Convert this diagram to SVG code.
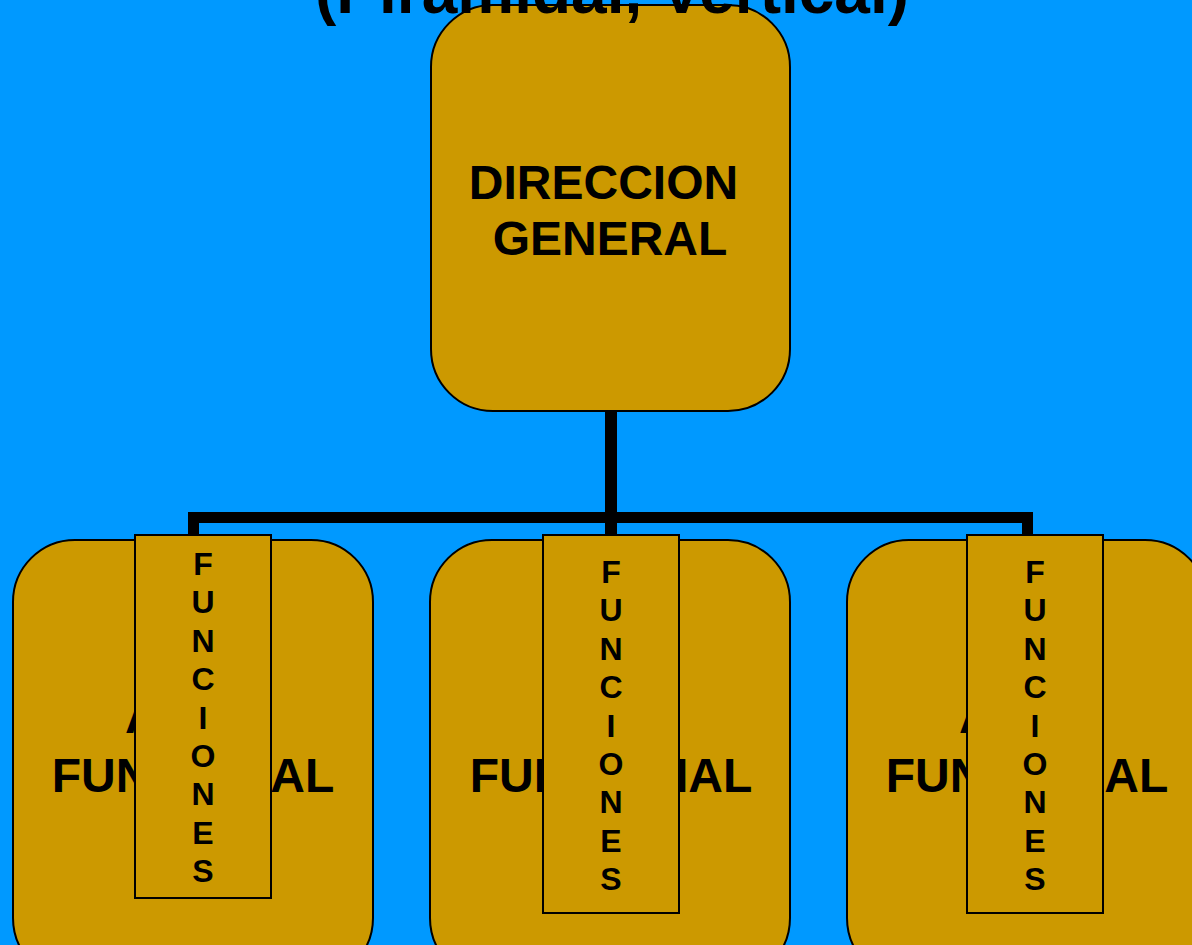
<svg xmlns="http://www.w3.org/2000/svg" width="1192" height="945" viewBox="0 0 1192 945">
  <style>
    .box { fill: #CC9900; stroke: #000; stroke-width: 2; }
    .tab { fill: #CC9900; stroke: #000; stroke-width: 2; }
    .big { font-family: "Liberation Sans", Arial, sans-serif; font-weight: bold; font-size: 48px; fill: #000; text-anchor: middle; }
    .vert { font-family: "Liberation Sans", Arial, sans-serif; font-weight: bold; font-size: 32px; fill: #000; text-anchor: middle; }
    .title { font-family: "Liberation Sans", Arial, sans-serif; font-weight: bold; font-size: 64px; fill: #000; text-anchor: middle; }
    .link { fill: none; stroke: #000; stroke-linejoin: miter; stroke-linecap: butt; }
  </style>
  <rect width="1192" height="945" fill="#0099FF"/>

  <g id="connectors">
    <path class="link" stroke-width="11" d="M193.5 536 V517.5 H1027.5 V536"/>
    <path class="link" stroke-width="12" d="M611 410 V536"/>
  </g>

  <g id="direccion-general">
    <rect class="box" x="431" y="5" width="359" height="406" rx="62" ry="62"/>
    <text class="big" x="603.5" y="199">DIRECCION</text>
    <text class="big" x="610" y="255">GENERAL</text>
  </g>

  <g id="area-1">
    <rect class="box" x="13" y="540" width="360" height="440" rx="62" ry="62"/>
    <text class="big" x="193" y="733">AREA</text>
    <text class="big" x="193" y="792">FUNCIONAL</text>
    <rect class="tab" x="135" y="535" width="136" height="363"/>
    <text class="vert" x="203" y="575">F</text>
    <text class="vert" x="203" y="613.4">U</text>
    <text class="vert" x="203" y="651.8">N</text>
    <text class="vert" x="203" y="690.2">C</text>
    <text class="vert" x="203" y="728.6">I</text>
    <text class="vert" x="203" y="767">O</text>
    <text class="vert" x="203" y="805.4">N</text>
    <text class="vert" x="203" y="843.8">E</text>
    <text class="vert" x="203" y="882.2">S</text>
  </g>

  <g id="area-2">
    <rect class="box" x="430" y="540" width="360" height="440" rx="62" ry="62"/>
    <text class="big" x="611" y="733">AREA</text>
    <text class="big" x="611" y="792">FUNCIONAL</text>
    <rect class="tab" x="543" y="535" width="136" height="378"/>
    <text class="vert" x="611" y="583">F</text>
    <text class="vert" x="611" y="621.4">U</text>
    <text class="vert" x="611" y="659.8">N</text>
    <text class="vert" x="611" y="698.2">C</text>
    <text class="vert" x="611" y="736.6">I</text>
    <text class="vert" x="611" y="775">O</text>
    <text class="vert" x="611" y="813.4">N</text>
    <text class="vert" x="611" y="851.8">E</text>
    <text class="vert" x="611" y="890.2">S</text>
  </g>

  <g id="area-3">
    <rect class="box" x="847" y="540" width="360" height="440" rx="62" ry="62"/>
    <text class="big" x="1027" y="733">AREA</text>
    <text class="big" x="1027" y="792">FUNCIONAL</text>
    <rect class="tab" x="967" y="535" width="136" height="378"/>
    <text class="vert" x="1035" y="583">F</text>
    <text class="vert" x="1035" y="621.4">U</text>
    <text class="vert" x="1035" y="659.8">N</text>
    <text class="vert" x="1035" y="698.2">C</text>
    <text class="vert" x="1035" y="736.6">I</text>
    <text class="vert" x="1035" y="775">O</text>
    <text class="vert" x="1035" y="813.4">N</text>
    <text class="vert" x="1035" y="851.8">E</text>
    <text class="vert" x="1035" y="890.2">S</text>
  </g>

  <g id="title">
    <text class="title" x="612" y="13">(Piramidal, Vertical)</text>
  </g>
</svg>
